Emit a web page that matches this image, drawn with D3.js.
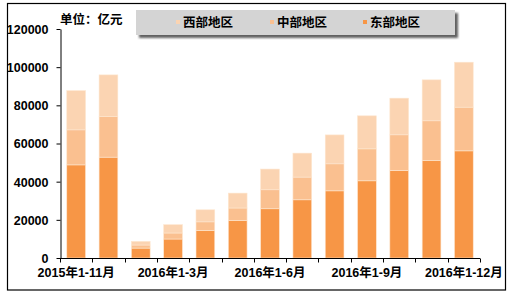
<!DOCTYPE html>
<html>
<head>
<meta charset="utf-8">
<script src="https://cdn.jsdelivr.net/npm/d3@7/dist/d3.min.js"></script>
<style>
  html, body { margin: 0; padding: 0; background: #fff; }
  svg { display: block; }
  text { font-family: "Liberation Sans", Arial, "Noto Sans CJK SC", sans-serif; font-weight: bold; fill: #000; }
</style>
</head>
<body>
<svg id="chart" width="511" height="295"></svg>
<script>
// Investment by region (unit: 100 million yuan), cumulative periods
const categories = [
  "2015年1-11月", "2015年1-12月", "2016年1-2月", "2016年1-3月", "2016年1-4月",
  "2016年1-5月", "2016年1-6月", "2016年1-7月", "2016年1-8月", "2016年1-9月",
  "2016年1-10月", "2016年1-11月", "2016年1-12月"
];
const east    = [48800, 52850, 5200, 9950, 14450, 19600, 25800, 30500, 35200, 40450, 45850, 51100, 56150];
const central = [18350, 21250, 1600, 3150, 4500, 6600, 9950, 11900, 14150, 16750, 18700, 20800, 22900];
const west    = [20550, 21850, 1900, 4350, 6300, 7800, 10850, 12550, 15150, 17300, 19200, 21450, 23550];
const seriesNames = ["东部地区", "中部地区", "西部地区"];
const legendOrder = ["西部地区", "中部地区", "东部地区"];
const yTicks = [0, 20000, 40000, 60000, 80000, 100000, 120000];
const labelEvery = 3;

const colors = { "东部地区": "#F79646", "中部地区": "#FAC090", "西部地区": "#FBD4B2" };

const svg = d3.select("#chart");

// drop shadow for the legend panel
const defs = svg.append("defs");
const f = defs.append("filter").attr("id", "shadow").attr("x", "-5%").attr("y", "-30%").attr("width", "115%").attr("height", "180%");
f.append("feDropShadow").attr("dx", 3).attr("dy", 3).attr("stdDeviation", 1.3).attr("flood-color", "#444").attr("flood-opacity", 0.85);

// outer frame
svg.append("rect").attr("x", 7.5).attr("y", 3.5).attr("width", 498).attr("height", 286.5)
  .attr("fill", "#fff").attr("stroke", "#000").attr("stroke-width", 1.2);

const x = d3.scaleBand().domain(categories).range([60, 480]).paddingInner(0.42).paddingOuter(0.21);
const y = d3.scaleLinear().domain([0, 120000]).range([258, 29]);

const rows = categories.map((c, i) => ({ cat: c, "东部地区": east[i], "中部地区": central[i], "西部地区": west[i] }));
const stack = d3.stack().keys(seriesNames)(rows);

svg.append("g").selectAll("g").data(stack).join("g")
  .attr("fill", d => colors[d.key])
  .selectAll("rect").data(d => d).join("rect")
  .attr("x", d => x(d.data.cat))
  .attr("width", x.bandwidth())
  .attr("y", d => y(d[1]))
  .attr("height", d => y(d[0]) - y(d[1]))
  .attr("stroke", "#FDE6CF").attr("stroke-width", 0.6);

// y axis
const yAxis = svg.append("g").attr("transform", "translate(60.5,0)")
  .call(d3.axisLeft(y).tickValues(yTicks).tickSize(4).tickSizeOuter(0).tickPadding(8).tickFormat(d3.format("d")));
yAxis.select(".domain").attr("stroke", "#000");
yAxis.selectAll(".tick line").attr("stroke", "#000");
yAxis.selectAll(".tick text").attr("font-size", 12.5).attr("dy", "0.35em");

// x axis
const xAxis = svg.append("g").attr("transform", "translate(0,258.5)")
  .call(d3.axisBottom(x).tickSize(0).tickSizeOuter(0).tickPadding(10)
    .tickFormat((d, i) => i % labelEvery === 0 ? d : ""));
xAxis.select(".domain").attr("stroke", "#000").attr("d", "M60,0H480");
xAxis.selectAll(".tick text").attr("font-size", 12.5);
// category boundary ticks
const step = x.step();
xAxis.selectAll(".bound").data(d3.range(categories.length + 1)).join("line")
  .attr("x1", i => Math.round(60 + i * step) + 0.5).attr("x2", i => Math.round(60 + i * step) + 0.5)
  .attr("y1", 0).attr("y2", 4).attr("stroke", "#000");

// unit label
svg.append("text").attr("x", 60).attr("y", 24).attr("font-size", 12.5).text("单位：亿元");

// legend
const lg = svg.append("g");
lg.append("rect").attr("x", 136).attr("y", 10).attr("width", 319).attr("height", 25)
  .attr("fill", "#D4D4D4").attr("filter", "url(#shadow)");
const legendX = [178, 272, 365];
legendOrder.forEach((name, i) => {
  const g = lg.append("g").attr("transform", `translate(${legendX[i]},0)`);
  g.append("rect").attr("x", -2).attr("y", 20).attr("width", 4).attr("height", 4).attr("fill", colors[name]);
  g.append("text").attr("x", 5).attr("y", 27).attr("font-size", 12.5).text(name);
});
</script>
</body>
</html>
